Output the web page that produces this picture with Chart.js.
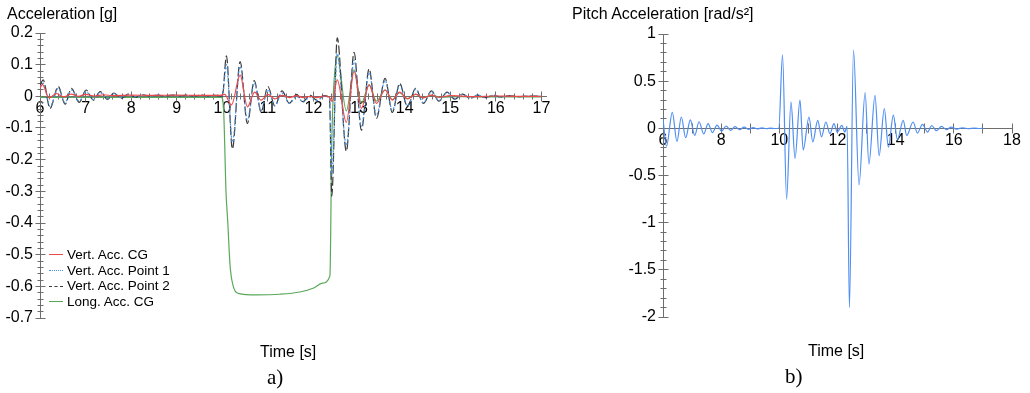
<!DOCTYPE html>
<html><head><meta charset="utf-8">
<script src="https://cdn.jsdelivr.net/npm/chart.js@4.4.1/dist/chart.umd.min.js"></script>
<style>
html,body{margin:0;padding:0;background:#fff;width:1030px;height:393px;overflow:hidden;position:relative;font-family:"Liberation Sans",Arial,sans-serif;}
canvas{position:absolute;top:0;}
.t{position:absolute;white-space:nowrap;color:#000;font-size:16px;line-height:16px;}
.cap{position:absolute;white-space:nowrap;color:#000;font-family:"Liberation Serif","Times New Roman",serif;font-size:21px;line-height:21px;}
#legend{position:absolute;left:49px;top:247px;font-size:13.5px;color:#000;}
#legend div{height:15.7px;line-height:15.7px;display:flex;align-items:center;white-space:nowrap;}
#legend span.s{display:inline-block;width:14px;height:0;margin-right:4px;}
</style></head><body>
<canvas id="c1" width="560" height="393" style="left:0px"></canvas>
<canvas id="c2" width="403" height="393" style="left:623px"></canvas>
<div class="t" style="left:7px;top:6px">Acceleration [g]</div>
<div class="t" style="left:572px;top:6px">Pitch Acceleration [rad/s²]</div>
<div class="t" style="left:260px;top:344px">Time [s]</div>
<div class="t" style="left:808px;top:343px">Time [s]</div>
<div class="cap" style="left:267px;top:367px">a)</div>
<div class="cap" style="left:785px;top:366px">b)</div>
<div id="legend"></div>
<script>
// ---------- data ----------
const seriesNames = ['Vert. Acc. CG', 'Vert. Acc. Point 1', 'Vert. Acc. Point 2', 'Long. Acc. CG'];

const cgTime = [6.00,6.05,6.20,6.36,6.52,6.68,6.84,7.00,7.20,7.40,7.60,8.00,8.50,9.00,9.50,9.95,10.05,10.20,10.39,10.55,10.71,10.85,11.00,11.15,11.31,11.47,11.63,11.77,11.92,12.07,12.23,12.34,12.41,12.52,12.72,12.89,13.05,13.22,13.38,13.57,13.73,13.89,14.06,14.24,14.41,14.59,14.75,15.00,15.50,16.00,16.50,17.00];
const cgAcc  = [0.025,0.038,-0.005,0.009,-0.002,0.007,0.000,0.006,0.001,0.005,0.002,0.004,0.003,0.004,0.003,0.003,0.006,-0.027,0.067,-0.033,0.013,-0.012,0.006,-0.008,0.003,-0.004,0.002,-0.004,0.000,-0.004,0.001,-0.002,-0.016,0.052,-0.082,0.079,-0.038,0.036,-0.022,0.020,-0.012,0.013,-0.008,0.007,-0.005,0.004,-0.003,0.002,-0.001,0.001,0.000,0.000];

const p1Time = [6.00,6.07,6.22,6.40,6.55,6.69,6.86,7.01,7.17,7.32,7.48,7.62,7.78,7.94,8.10,8.26,8.42,8.58,8.74,8.90,9.06,9.22,9.38,9.54,9.70,9.86,10.00,10.09,10.22,10.39,10.55,10.70,10.85,11.00,11.15,11.31,11.47,11.63,11.77,11.92,12.07,12.23,12.35,12.40,12.52,12.72,12.89,13.05,13.22,13.38,13.57,13.73,13.89,14.06,14.24,14.41,14.59,14.75,14.93,15.10,15.27,15.44,15.60,15.77,15.94,16.10,16.30,16.50,16.70,17.00];
const p1Acc  = [0.030,0.042,-0.032,0.025,-0.020,0.020,-0.015,0.015,-0.010,0.012,-0.007,0.009,-0.004,0.007,-0.002,0.005,0.000,0.005,0.001,0.004,0.001,0.004,0.001,0.004,0.001,0.004,0.002,0.100,-0.145,0.095,-0.075,0.042,-0.045,0.022,-0.030,0.010,-0.022,0.000,-0.018,-0.002,-0.014,0.000,-0.006,-0.250,0.135,-0.155,0.115,-0.095,0.075,-0.060,0.050,-0.045,0.035,-0.030,0.022,-0.020,0.015,-0.013,0.011,-0.008,0.006,-0.005,0.004,-0.003,0.003,-0.002,0.002,-0.001,0.001,0.000];

const p2Time = [6.00,6.07,6.22,6.40,6.55,6.69,6.86,7.01,7.17,7.32,7.48,7.62,7.78,7.94,8.10,8.26,8.42,8.58,8.74,8.90,9.06,9.22,9.38,9.54,9.70,9.86,10.00,10.09,10.22,10.39,10.55,10.70,10.85,11.00,11.15,11.31,11.47,11.63,11.77,11.92,12.07,12.23,12.35,12.40,12.52,12.72,12.89,13.05,13.22,13.38,13.57,13.73,13.89,14.06,14.24,14.41,14.59,14.75,14.93,15.10,15.27,15.44,15.60,15.77,15.94,16.10,16.30,16.50,16.70,17.00];
const p2Acc  = [0.035,0.052,-0.038,0.031,-0.025,0.025,-0.019,0.020,-0.012,0.015,-0.010,0.010,-0.006,0.007,-0.003,0.005,0.000,0.004,0.001,0.004,0.001,0.004,0.001,0.004,0.001,0.003,0.000,0.128,-0.166,0.110,-0.086,0.050,-0.049,0.031,-0.030,0.017,-0.022,0.006,-0.017,0.004,-0.012,0.002,-0.005,-0.315,0.185,-0.173,0.139,-0.107,0.087,-0.070,0.057,-0.051,0.041,-0.033,0.025,-0.022,0.017,-0.015,0.013,-0.009,0.007,-0.006,0.004,-0.004,0.003,-0.002,0.002,-0.001,0.001,0.000];

const longTime = [6.00,9.98,10.03,10.08,10.12,10.17,10.24,10.35,10.75,11.26,11.70,11.99,12.20,12.36,12.40,12.44,12.52,12.72,12.89,13.05,13.22,13.38,13.57,13.73,13.89,14.06,14.24,14.41,14.59,14.80,15.20,16.00,17.00];
const longAcc  = [-0.003,-0.003,-0.050,-0.300,-0.400,-0.535,-0.600,-0.622,-0.627,-0.625,-0.618,-0.606,-0.590,-0.567,-0.150,0.020,0.127,-0.046,0.084,-0.022,0.036,-0.015,0.020,-0.010,0.012,-0.007,0.006,-0.004,0.003,-0.003,-0.001,-0.002,-0.002];

const pitchTime = [6.00,6.12,6.32,6.48,6.63,6.78,6.94,7.09,7.24,7.40,7.55,7.70,7.86,8.01,8.17,8.32,8.48,8.63,8.79,8.94,9.10,9.25,9.40,9.55,9.70,9.85,9.98,10.11,10.25,10.40,10.54,10.71,10.82,11.02,11.15,11.32,11.45,11.60,11.74,11.88,11.99,12.15,12.25,12.33,12.41,12.55,12.74,12.95,13.08,13.29,13.43,13.61,13.75,13.92,14.06,14.26,14.38,14.60,14.75,14.92,15.10,15.24,15.40,15.58,15.75,15.90,16.10,16.30,16.50,16.70,16.90,17.00];
const pitchAcc  = [0.10,-0.19,0.17,-0.14,0.12,-0.10,0.09,-0.075,0.07,-0.06,0.05,-0.045,0.035,-0.03,0.025,-0.022,0.018,-0.015,0.012,-0.010,0.008,-0.006,0.005,-0.004,0.003,-0.002,0.0,0.78,-0.75,0.28,-0.32,0.30,-0.23,0.12,-0.145,0.085,-0.09,0.067,-0.057,0.05,-0.04,0.032,-0.04,0.02,-1.90,0.83,-0.60,0.38,-0.38,0.35,-0.29,0.21,-0.20,0.14,-0.12,0.085,-0.075,0.067,-0.05,0.043,-0.04,0.03,-0.025,0.02,-0.015,0.012,-0.008,0.006,-0.004,0.003,-0.002,0.0];

const leftXTicks  = [6,7,8,9,10,11,12,13,14,15,16,17];
const leftYTicks  = [0.2,0.1,0,-0.1,-0.2,-0.3,-0.4,-0.5,-0.6,-0.7];
const rightXTicks = [6,7,8,9,10,11,12,13,14,15,16,17,18];
const rightXLabels = [6,8,10,12,14,16,18];
const rightYTicks = [1,0.5,0,-0.5,-1,-1.5,-2];

// ---------- helpers ----------
const zip = (xs, ys) => xs.map((x, i) => ({x, y: ys[i]}));
Chart.defaults.font.family = '"Liberation Sans", Arial, sans-serif';
Chart.defaults.font.size = 16;
Chart.defaults.color = '#000';

const crossTicks = {
  id: 'crossTicks',
  beforeDatasetsDraw(chart, args, opts) {
    const ctx = chart.ctx, xs = chart.scales.x, ys = chart.scales.y;
    const y0 = Math.round(ys.getPixelForValue(0) - 0.5) + 0.5;
    const x0 = Math.round(xs.left - 0.5) + 0.5;
    ctx.save();
    ctx.strokeStyle = opts.color;
    ctx.lineWidth = 1;
    const drawSet = (scale, sub, isX) => {
      const vals = scale.ticks.map(t => t.value).sort((a, b) => a - b);
      const marks = [];
      vals.forEach((v, i) => {
        marks.push([v, true]);
        if (i < vals.length - 1) for (let k = 1; k < sub; k++) marks.push([v + (vals[i + 1] - v) * k / sub, false]);
      });
      marks.forEach(([v, major]) => {
        const p = Math.round(scale.getPixelForValue(v) - 0.5) + 0.5;
        const L = major ? opts.major : opts.minor;
        ctx.beginPath();
        if (isX) { ctx.moveTo(p, y0 - L); ctx.lineTo(p, y0 + L); }
        else { ctx.moveTo(x0 - L, p); ctx.lineTo(x0 + L, p); }
        ctx.stroke();
      });
    };
    drawSet(xs, opts.xSub, true);
    drawSet(ys, opts.ySub, false);
    ctx.restore();
  }
};

const fmt = v => String(Math.round(v * 100) / 100);
const axisColor = '#6e6e6e';

function baseScales(xMin, xMax, xTicks, xLabelFn, yMin, yMax, yTicks) {
  return {
    x: {
      type: 'linear', position: {y: 0}, min: xMin, max: xMax,
      afterBuildTicks: s => { s.ticks = xTicks.map(v => ({value: v})); },
      ticks: {autoSkip: false, maxRotation: 0, padding: 3, callback: xLabelFn, font: {size: 16}},
      grid: {display: true, drawOnChartArea: false, drawTicks: false},
      border: {display: true, color: axisColor, width: 1}
    },
    y: {
      type: 'linear', position: 'left', min: yMin, max: yMax,
      afterBuildTicks: s => { s.ticks = yTicks.map(v => ({value: v})); },
      afterFit: s => { s.width = 40; },
      ticks: {autoSkip: false, padding: 7, callback: v => fmt(v), font: {size: 16}},
      grid: {display: true, drawOnChartArea: false, drawTicks: false},
      border: {display: true, color: axisColor, width: 1}
    }
  };
}

const lineBase = {pointRadius: 0, borderWidth: 1.2, fill: false, cubicInterpolationMode: 'monotone', spanGaps: true};

const chart1 = new Chart(document.getElementById('c1'), {
  type: 'line',
  data: {
    datasets: [
      Object.assign({label: seriesNames[0], data: zip(cgTime, cgAcc), borderColor: '#f0484a'}, lineBase),
      Object.assign({label: seriesNames[1], data: zip(p1Time, p1Acc), borderColor: '#4a92e0', borderDash: [2, 2]}, lineBase),
      Object.assign({label: seriesNames[2], data: zip(p2Time, p2Acc), borderColor: '#3a3a3a', borderDash: [9, 3]}, lineBase),
      Object.assign({label: seriesNames[3], data: zip(longTime, longAcc), borderColor: '#5aa85a'}, lineBase)
    ]
  },
  options: {
    responsive: false, animation: false, devicePixelRatio: 1,
    layout: {padding: {left: 0, top: 33, right: 14, bottom: 75}},
    plugins: {legend: {display: false}, tooltip: {enabled: false},
      crossTicks: {color: axisColor, major: 5, minor: 3, xSub: 5, ySub: 5}},
    scales: baseScales(6, 17.1, leftXTicks, v => String(v), -0.7, 0.2, leftYTicks)
  },
  plugins: [crossTicks]
});

const chart2 = new Chart(document.getElementById('c2'), {
  type: 'line',
  data: {
    datasets: [
      Object.assign({label: 'Pitch Acceleration', data: zip(pitchTime, pitchAcc), borderColor: '#4f8ef2'}, lineBase)
    ]
  },
  options: {
    responsive: false, animation: false, devicePixelRatio: 1,
    layout: {padding: {left: 0, top: 34, right: 14, bottom: 76}},
    plugins: {legend: {display: false}, tooltip: {enabled: false},
      crossTicks: {color: axisColor, major: 5, minor: 3, xSub: 1, ySub: 5}},
    scales: baseScales(6, 18, rightXTicks, v => rightXLabels.includes(v) ? String(v) : '', -2, 1, rightYTicks)
  },
  plugins: [crossTicks]
});

// HTML legend built from chart1's datasets
const legendEl = document.getElementById('legend');
chart1.data.datasets.forEach(ds => {
  const row = document.createElement('div');
  const s = document.createElement('span');
  s.className = 's';
  const style = ds.borderDash ? (ds.borderDash[0] <= 2 ? 'dotted' : 'dashed') : 'solid';
  s.style.borderTop = '1px ' + style + ' ' + ds.borderColor;
  row.appendChild(s);
  row.appendChild(document.createTextNode(ds.label));
  legendEl.appendChild(row);
});
</script>
</body></html>
